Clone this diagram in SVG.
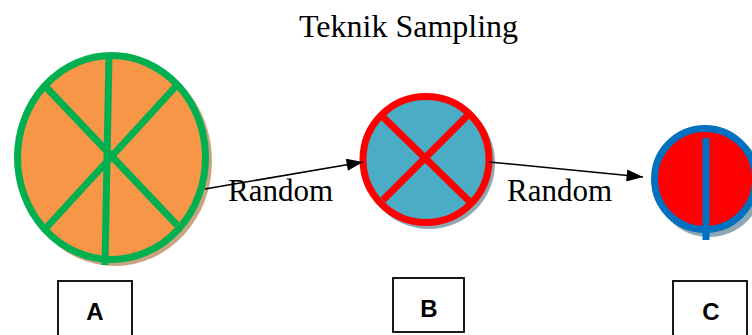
<svg xmlns="http://www.w3.org/2000/svg" width="752" height="335" viewBox="0 0 752 335">
<defs>
<style>
.t{font-family:"Liberation Serif","Times New Roman",serif;fill:#000}
.lbl{font-family:"Liberation Sans",Arial,sans-serif;font-weight:bold;font-size:24px;fill:#000;text-anchor:middle}
.box{fill:#fff;stroke:#000;stroke-width:1.8}
.conn{stroke:#000;stroke-width:1.5;fill:none}
</style>
<marker id="ah2" viewBox="0 0 15 11" refX="15" refY="5.5" markerWidth="17" markerHeight="12" markerUnits="userSpaceOnUse" orient="auto">
<path d="M0,0 L15,5.5 L0,11 z" fill="#000"/>
</marker>
</defs>
<rect width="752" height="335" fill="#fff"/>
<text class="t" x="299" y="37" font-size="32">Teknik Sampling</text>

<g id="nodeA">
<ellipse cx="115" cy="161" rx="97" ry="105" fill="#c9a47f"/>
<ellipse cx="111.5" cy="157.5" rx="94" ry="102" fill="#f79646" stroke="#00b050" stroke-width="7"/>
<g stroke="#00b050" stroke-width="7" fill="none">
<line x1="109" y1="54" x2="105" y2="265"/>
<line x1="45" y1="86" x2="177" y2="225"/>
<line x1="177" y1="85" x2="47" y2="227"/>
</g>
</g>

<g id="nodeB">
<circle cx="429" cy="163" r="66" fill="#8ea7b2"/>
<circle cx="426" cy="159.5" r="63" fill="#4bacc6" stroke="#ff0000" stroke-width="7"/>
<g stroke="#ff0000" stroke-width="7">
<line x1="383" y1="117" x2="470" y2="202"/>
<line x1="468" y1="115" x2="383" y2="200"/>
</g>
</g>

<g id="nodeC">
<circle cx="709" cy="183" r="54" fill="#8ea7b2"/>
<circle cx="705" cy="179" r="50.5" fill="#ff0000" stroke="#0070c0" stroke-width="7"/>
<line x1="706" y1="138" x2="706" y2="240" stroke="#0070c0" stroke-width="7"/>
</g>

<g id="connectors">
<line class="conn" x1="205" y1="189" x2="363" y2="162" marker-end="url(#ah2)"/>
<line class="conn" x1="489" y1="162" x2="643" y2="177" marker-end="url(#ah2)"/>
<text class="t" x="228" y="201" font-size="31">Random</text>
<text class="t" x="507" y="201" font-size="31">Random</text>
</g>

<g id="boxA">
<rect class="box" x="58" y="281" width="74" height="60"/>
<text class="lbl" x="95" y="320">A</text>
</g>
<g id="boxB">
<rect class="box" x="393" y="278" width="71" height="54"/>
<text class="lbl" x="429" y="317">B</text>
</g>
<g id="boxC">
<rect class="box" x="673" y="281" width="74" height="60"/>
<text class="lbl" x="711" y="320">C</text>
</g>
</svg>
